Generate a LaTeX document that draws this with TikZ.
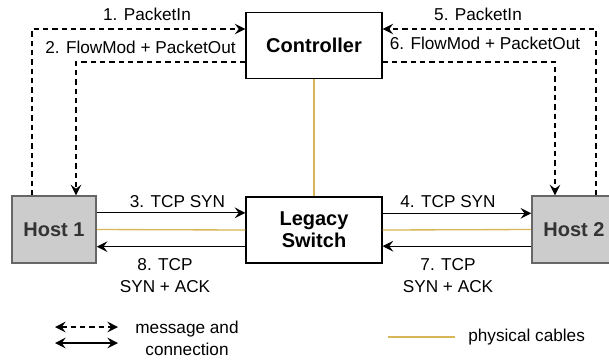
\documentclass[tikz,border=0pt]{standalone}
\usepackage{fontspec}
\setmainfont{Liberation Sans}
\usetikzlibrary{arrows.meta}
\definecolor{cable}{HTML}{D6B656}
\definecolor{hostfill}{HTML}{CCCCCC}
\definecolor{hostline}{HTML}{666666}
\definecolor{hosttext}{HTML}{333333}
\newcommand{\labelfont}{\fontsize{12.9}{16.5}\selectfont}
\newcommand{\boxfont}{\fontsize{15}{16.5}\selectfont\bfseries}
\tikzset{
	box/.style={draw=black, line width=0.9pt, fill=white, inner sep=0pt, font=\boxfont},
	hostbox/.style={draw=hostline, line width=1.2pt, fill=hostfill, inner sep=0pt, text=hosttext, font=\boxfont},
	msg/.style={dashed, dash pattern=on 4pt off 3pt, line width=0.9pt, -{Stealth[length=8pt,width=8pt,inset=3pt]}},
	conn/.style={line width=0.9pt, -{Stealth[length=8pt,width=8pt,inset=3pt]}},
	cab/.style={cable, line width=1pt},
	lbl/.style={inner sep=0pt, align=center}
}
\begin{document}
\begin{tikzpicture}[x=0.75pt, y=-0.75pt, font=\labelfont]
			%%%%% START %%%%%
			\useasboundingbox (0,0) rectangle (609,362);
			
			\node[box, minimum width=102pt, minimum height=50pt] (ctrl) at (314, 45.5) {Controller};
			\node[box, minimum width=102pt, minimum height=49.5pt, align=center] (sw) at (314, 230) {Legacy\\Switch};
			\node[hostbox, minimum width=63pt, minimum height=50pt] (h1) at (54, 229.5) {Host 1};
			\node[hostbox, minimum width=63pt, minimum height=50pt] (h2) at (574, 229.5) {Host 2};
			
			%% physical cables
			\draw[cab] (ctrl.south) -- (sw.north);
			\draw[cab] (h1.east) -- (sw.west);
			\draw[cab] (sw.east) -- (h2.west);
			
			%% control messages
			\coordinate (c1) at (32, 29);
			\coordinate (c2) at (76, 62);
			\coordinate (c5) at (596, 29);
			\coordinate (c6) at (555, 62);
			\draw[msg] (h1.north -| c1) -- (c1) -- (c1 -| ctrl.west);
			\draw[msg] (c2 -| ctrl.west) -- (c2) -- (c2 |- h1.north);
			\draw[msg] (h2.north -| c5) -- (c5) -- (c5 -| ctrl.east);
			\draw[msg] (c6 -| ctrl.east) -- (c6) -- (c6 |- h2.north);
			
			\node[lbl] (m1) at (147, 14) {1. PacketIn};
			\node[lbl] (m2) at (140.5, 47) {2. FlowMod + PacketOut};
			\node[lbl] (m5) at (478, 14) {5. PacketIn};
			\node[lbl] (m6) at (485, 43.5) {6. FlowMod + PacketOut};
			
			%% connections
			\draw[conn] ([yshift=12.5pt]h1.east) -- ([yshift=12.5pt]h1.east -| sw.west);
			\draw[conn] ([yshift=-12.5pt]sw.west) -- ([yshift=-12.5pt]sw.west -| h1.east);
			\draw[conn] ([yshift=12.5pt]sw.east) -- ([yshift=12.5pt]sw.east -| h2.west);
			\draw[conn] ([yshift=-12.5pt]h2.west) -- ([yshift=-12.5pt]h2.west -| sw.east);
			
			\node[lbl] (t3) at (177.5, 202) {3. TCP SYN};
			\node[lbl] (t4) at (448, 202) {4. TCP SYN};
			\node[lbl] (t8) at (165, 276) {8. TCP\\SYN + ACK};
			\node[lbl] (t7) at (448, 276) {7. TCP\\SYN + ACK};
			
			%% legend
			\coordinate (ka) at (55, 327);
			\coordinate (kb) at (118, 327);
			\coordinate (kc) at (55, 343);
			\coordinate (kd) at (118, 343);
			\draw[msg, {Stealth[length=8pt,width=8pt,inset=3pt]}-{Stealth[length=8pt,width=8pt,inset=3pt]}] (ka) -- (kb);
			\draw[conn, {Stealth[length=8pt,width=8pt,inset=3pt]}-{Stealth[length=8pt,width=8pt,inset=3pt]}] (kc) -- (kd);
			\node[lbl] (kt) at (187, 338.5) {message and\\connection};
			
			\coordinate (ke) at (388, 337);
			\coordinate (kf) at (455, 337);
			\draw[cab] (ke) -- (kf);
			\node[lbl, anchor=west] (kp) at (468, 337) {physical cables};
			%%%%% END %%%%%
		\end{tikzpicture}
\end{document}
